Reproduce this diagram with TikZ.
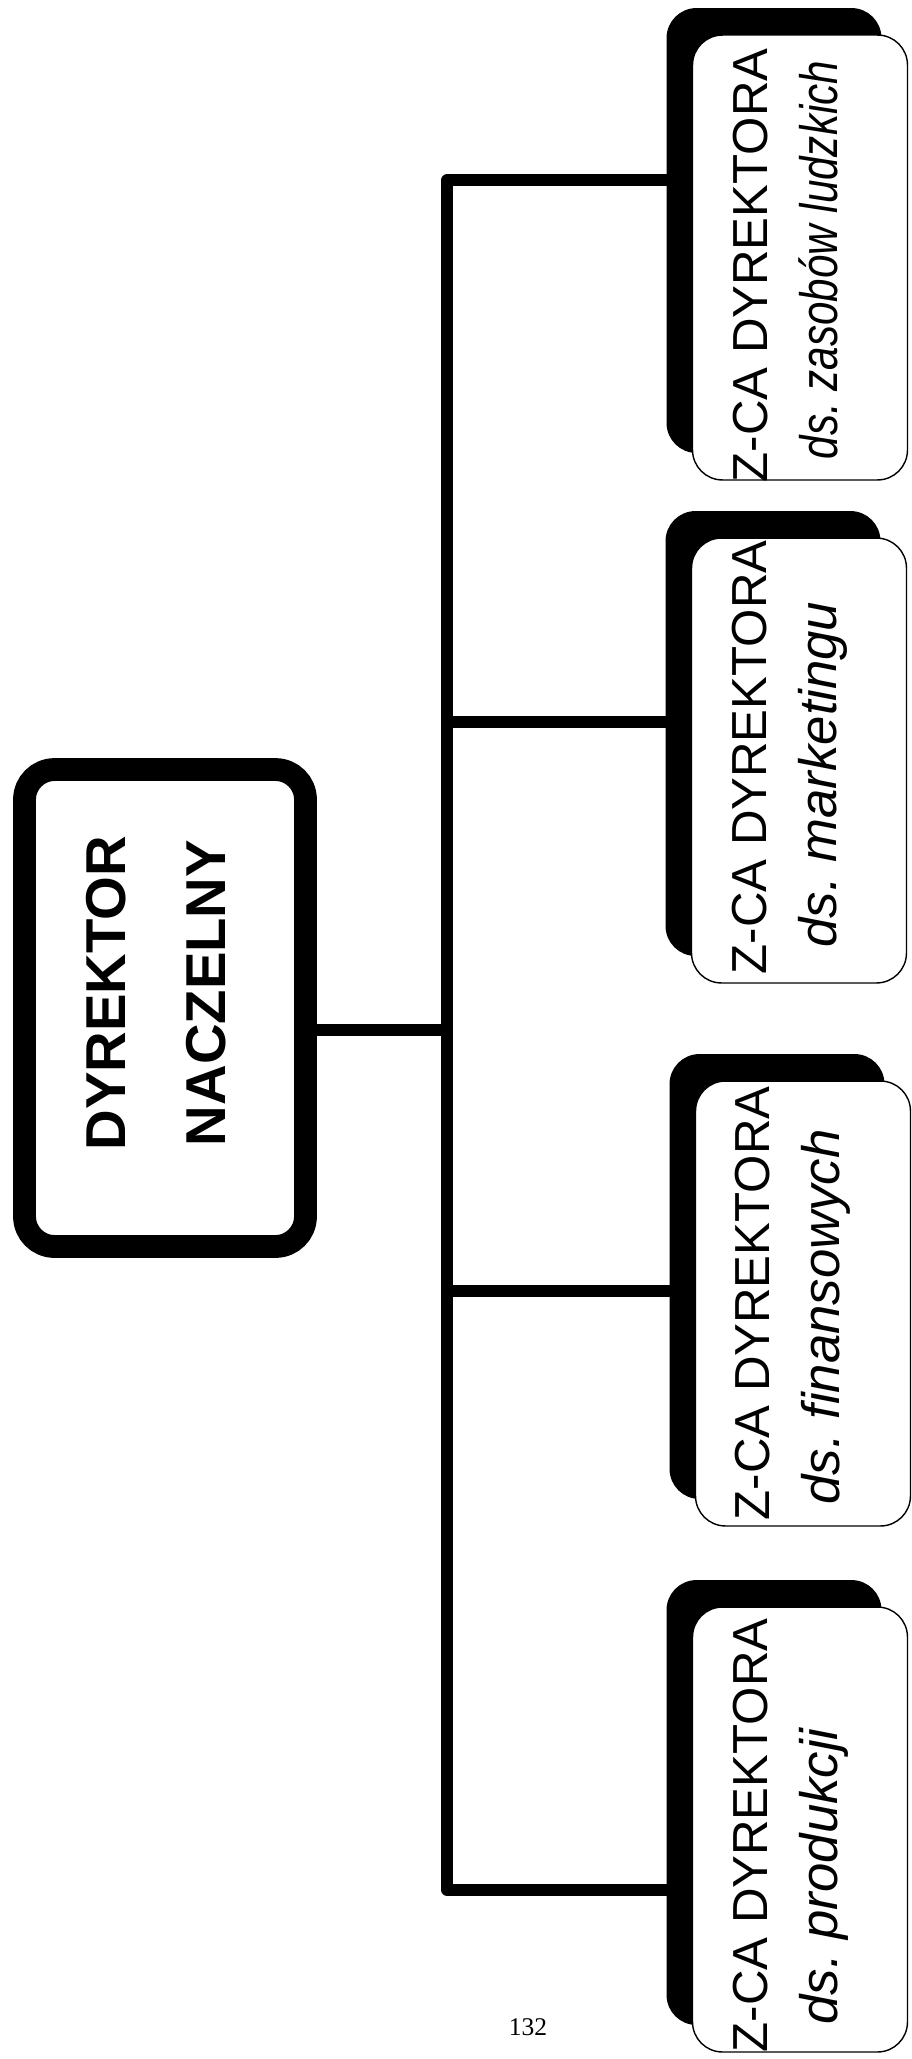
\documentclass[tikz,border=0pt]{standalone}
\usepackage{fontspec}
\setmainfont{Liberation Sans}
\newfontfamily\pagefont{Liberation Serif}
\usetikzlibrary{calc,shadows,backgrounds}
\frenchspacing

\begin{document}
\begin{tikzpicture}[x=0.02cm, y=-0.02cm,
    rootbox/.style={draw, line width=13pt, rounded corners=0.6cm,
        minimum width=5.62cm, minimum height=9.54cm, inner sep=0pt},
    subbox/.style={draw, fill=white, line width=0.8pt, rounded corners=0.6cm,
        minimum width=4.3cm, minimum height=8.9cm, inner sep=0pt,
        general shadow={fill=black, shadow xshift=-0.52cm, shadow yshift=0.54cm}},
    roottext/.style={rotate=90, align=center, inner sep=0pt,
        font=\fontsize{32}{57}\selectfont\bfseries},
    titletext/.style={rotate=90, anchor=base west, inner sep=0pt,
        font=\fontsize{28}{34}\selectfont},
    scopetext/.style={rotate=90, anchor=base west, inner sep=0pt,
        font=\fontsize{30}{36}\selectfont\itshape},
    link/.style={line width=6.3pt, line cap=round, line join=round}]

    \useasboundingbox (0,0) rectangle (912,2059);

    % Dyrektor naczelny
    \node[rootbox] (root) at (165,1008) {};
    \node[roottext] (rootlabel) at (156,993) {DYREKTOR\\NACZELNY};

    % Zastepcy dyrektora
    \node[subbox] (zl) at (800,257.5) {};
    \node[subbox] (zm) at (799,760.5) {};
    \node[subbox] (zf) at (803,1303.5) {};
    \node[subbox] (zp) at (800,1829.5) {};

    \node[titletext] (zltitle) at ($(zl.south west)+(76,2)$) {Z-CA DYREKTORA};
    \node[scopetext] (zlscope) at ($(zl.south west)+(146,-21)$) {\scalebox{0.8}[1]{ds. zasobów ludzkich}};

    \node[titletext] (zmtitle) at ($(zm.south west)+(76,-9)$) {Z-CA DYREKTORA};
    \node[scopetext] (zmscope) at ($(zm.south west)+(146,-36)$) {ds. marketingu};

    \node[titletext] (zftitle) at ($(zf.south west)+(75,-6)$) {Z-CA DYREKTORA};
    \node[scopetext] (zfscope) at ($(zf.south west)+(145,-22)$) {ds. finansowych};

    \node[titletext] (zptitle) at ($(zp.south west)+(76,0)$) {Z-CA DYREKTORA};
    \node[scopetext] (zpscope) at ($(zp.south west)+(146,-28)$) {ds. produkcji};

    % Polaczenia
    \coordinate (bl) at (447,180);
    \coordinate (bm) at (447,722);
    \coordinate (bf) at (447,1291);
    \coordinate (bp) at (447,1890);
    \coordinate (broot) at (447,1030);
    \begin{scope}[on background layer]
        \draw[link] (zl.west |- bl) -- (bl) -- (bp) -- (zp.west |- bp);
        \draw[link] (bm) -- (zm.west |- bm);
        \draw[link] (bf) -- (zf.west |- bf);
        \draw[link] (root.east |- broot) -- (broot);
    \end{scope}

    % Numer strony
    \node[font=\pagefont\fontsize{14.5}{17}\selectfont, anchor=base] (pagenum) at (528,2035) {132};
\end{tikzpicture}
\end{document}
